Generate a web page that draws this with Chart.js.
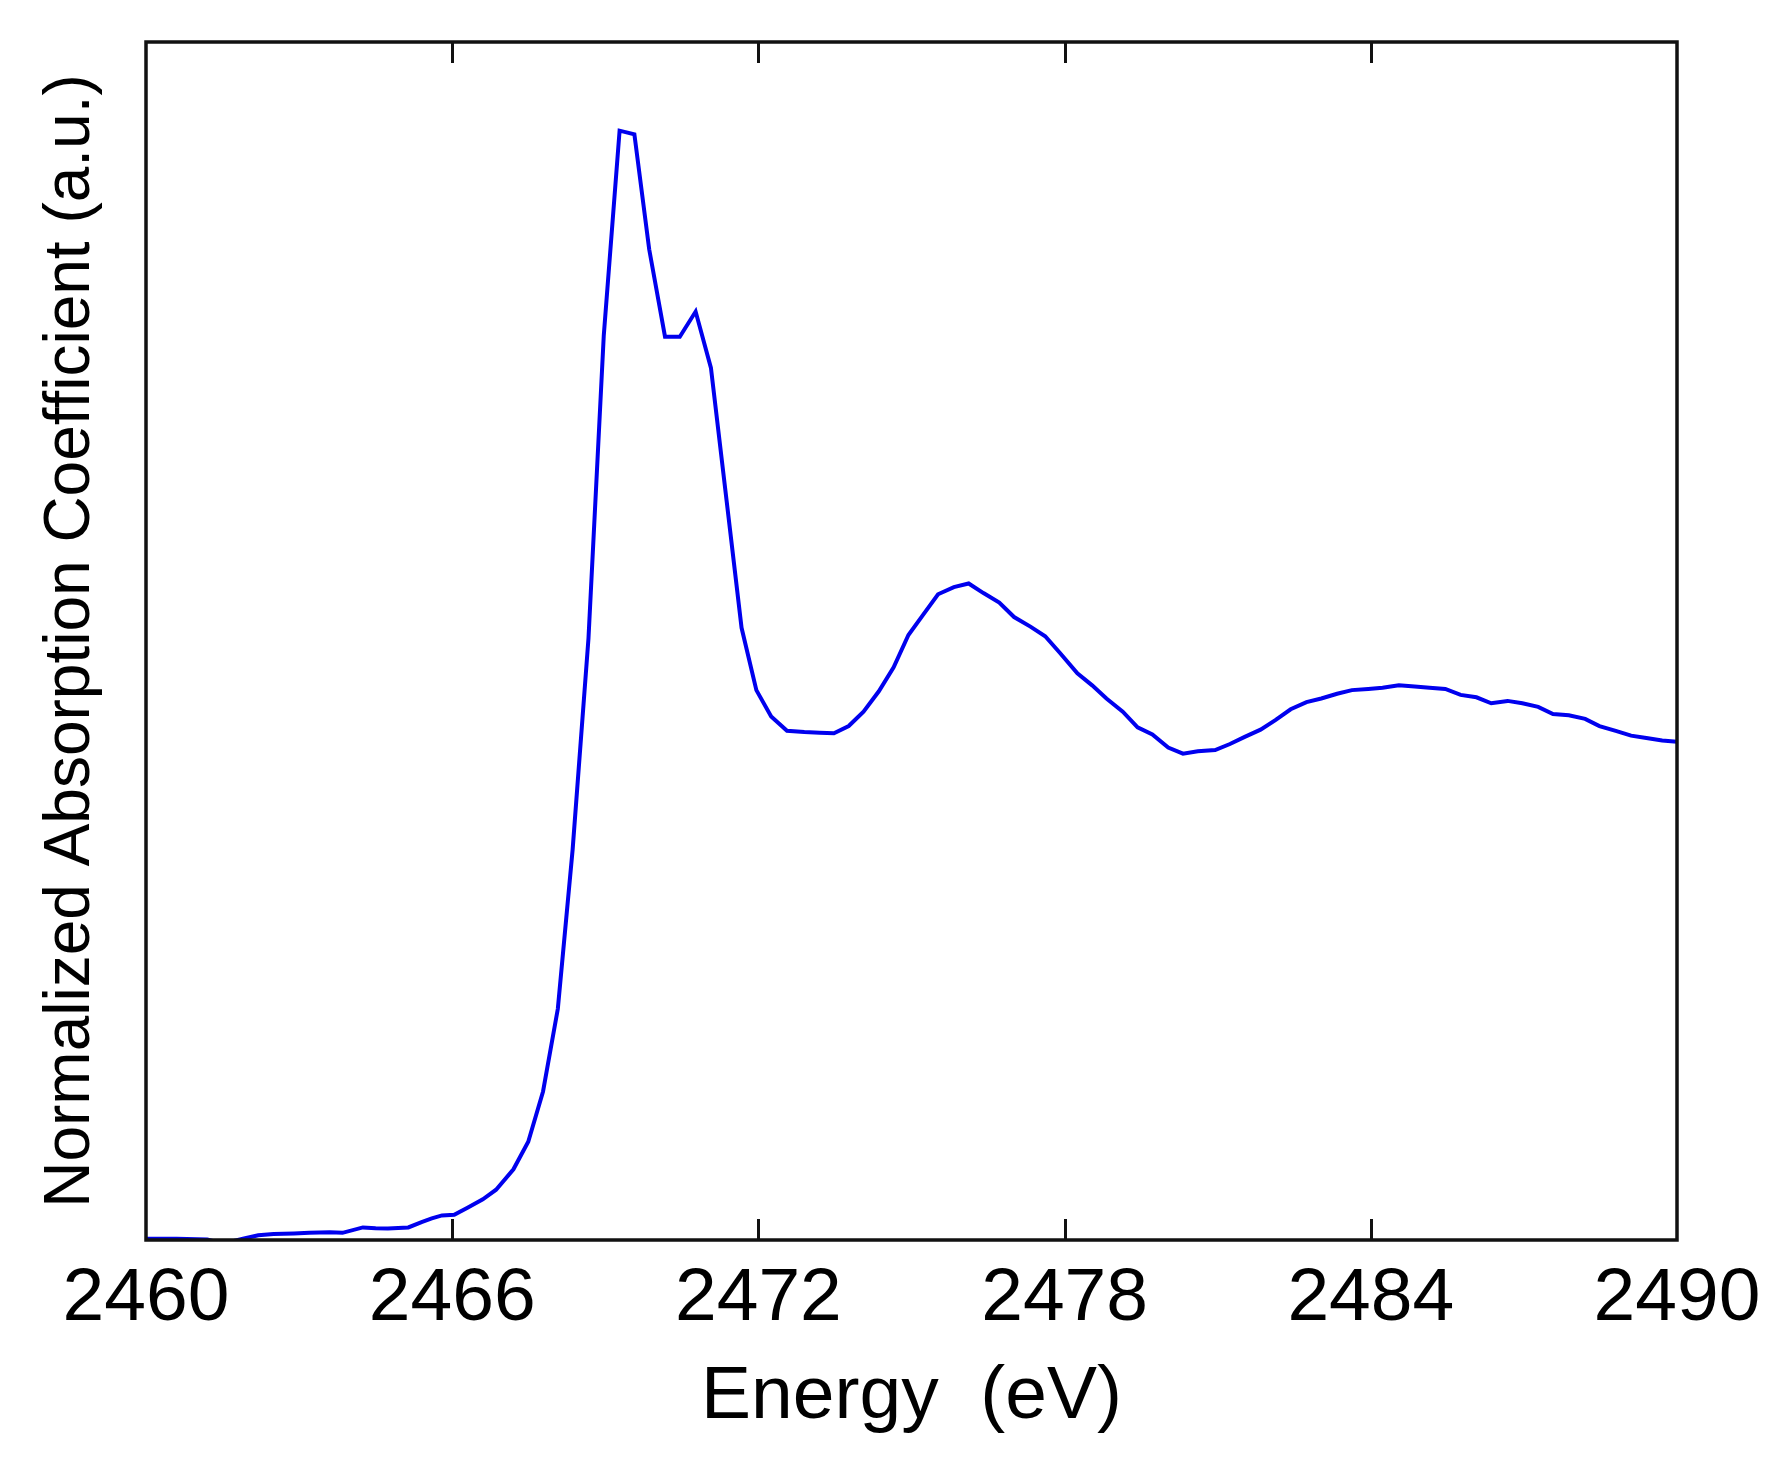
<!DOCTYPE html>
<html>
<head>
<meta charset="utf-8">
<script src="https://cdn.jsdelivr.net/npm/chart.js@4.4.1/dist/chart.umd.min.js"></script>
<style>
  html, body { margin: 0; padding: 0; background: #ffffff; }
  #wrap { width: 1787px; height: 1469px; position: relative; }
</style>
</head>
<body>
<div id="wrap"><canvas id="c"></canvas></div>
<script>
// Energy (eV) sample positions
const energy = [
  2460.0, 2460.6, 2461.2, 2461.5, 2461.9, 2462.2, 2462.5, 2462.9, 2463.2, 2463.6,
  2463.85, 2464.25, 2464.5, 2464.74, 2465.14, 2465.4, 2465.6, 2465.8, 2466.04, 2466.3,
  2466.6, 2466.86, 2467.2, 2467.49, 2467.78, 2468.07, 2468.36, 2468.67, 2468.97, 2469.28,
  2469.57, 2469.86, 2470.17, 2470.46, 2470.77, 2471.07, 2471.38, 2471.67, 2471.96, 2472.25,
  2472.56, 2472.9, 2473.2, 2473.48, 2473.77, 2474.06, 2474.36, 2474.65, 2474.94, 2475.23,
  2475.52, 2475.83, 2476.12, 2476.41, 2476.72, 2477.01, 2477.33, 2477.62, 2477.91, 2478.25,
  2478.54, 2478.82, 2479.14, 2479.43, 2479.72, 2480.03, 2480.32, 2480.61, 2480.95, 2481.24,
  2481.53, 2481.84, 2482.13, 2482.43, 2482.74, 2483.03, 2483.34, 2483.63, 2483.95, 2484.23,
  2484.55, 2484.86, 2485.15, 2485.46, 2485.76, 2486.07, 2486.36, 2486.68, 2486.97, 2487.28,
  2487.57, 2487.88, 2488.2, 2488.48, 2488.8, 2489.1, 2489.4, 2489.71, 2490.0
];
// Normalized absorption coefficient (a.u.)
const absorption = [
  0.001, 0.001, 0.0005, -0.003, 0.001, 0.004, 0.005, 0.0055, 0.006, 0.0065,
  0.006, 0.0105, 0.0098, 0.0095, 0.0105, 0.015, 0.018, 0.0205, 0.021, 0.027,
  0.034, 0.042, 0.059, 0.082, 0.124, 0.193, 0.326, 0.502, 0.755, 0.926,
  0.923, 0.827, 0.754, 0.754, 0.775, 0.728, 0.616, 0.511, 0.459, 0.437,
  0.425, 0.424, 0.4235, 0.423, 0.429, 0.441, 0.458, 0.478, 0.505, 0.522,
  0.539, 0.545, 0.548, 0.540, 0.532, 0.520, 0.512, 0.504, 0.490, 0.473,
  0.463, 0.452, 0.441, 0.428, 0.422, 0.411, 0.406, 0.408, 0.409, 0.414,
  0.420, 0.426, 0.434, 0.443, 0.449, 0.452, 0.456, 0.459, 0.460, 0.461,
  0.463, 0.462, 0.461, 0.460, 0.455, 0.453, 0.448, 0.450, 0.448, 0.445,
  0.439, 0.438, 0.435, 0.429, 0.425, 0.421, 0.419, 0.417, 0.416
];
const xTicks = [2460, 2466, 2472, 2478, 2484, 2490];
const xTickLabels = ['2460', '2466', '2472', '2478', '2484', '2490'];
const xTitle = 'Energy  (eV)';
const yTitle = 'Normalized Absorption Coefficient (a.u.)';

const FONT = '"Liberation Sans", Arial, Helvetica, sans-serif';

const points = energy.map((e, i) => ({ x: e, y: absorption[i] }));

const framePlugin = {
  id: 'frame',
  afterDraw(chart) {
    const { ctx, chartArea: a, scales } = chart;
    const xs = scales.x;
    ctx.save();
    ctx.strokeStyle = '#111111';
    ctx.lineWidth = 3.5;
    ctx.strokeRect(a.left, a.top, a.right - a.left, a.bottom - a.top);
    ctx.lineWidth = 3;
    const tl = 21;
    xs.ticks.forEach(t => {
      if (t.value <= xs.min || t.value >= xs.max) return;
      const px = Math.round(xs.getPixelForValue(t.value)) + 0.5;
      ctx.beginPath();
      ctx.moveTo(px, a.bottom);
      ctx.lineTo(px, a.bottom - tl);
      ctx.moveTo(px, a.top);
      ctx.lineTo(px, a.top + tl);
      ctx.stroke();
    });
    ctx.restore();
  }
};

new Chart(document.getElementById('c'), {
  type: 'line',
  data: {
    datasets: [{
      data: points,
      borderColor: '#0000ee',
      borderWidth: 4,
      pointRadius: 0,
      tension: 0,
      fill: false
    }]
  },
  options: {
    responsive: true,
    maintainAspectRatio: false,
    animation: false,
    devicePixelRatio: 1,
    layout: { padding: { top: 42, right: 110, left: 0, bottom: 0 } },
    plugins: { legend: { display: false }, tooltip: { enabled: false } },
    scales: {
      x: {
        type: 'linear',
        min: 2460,
        max: 2490,
        afterBuildTicks(scale) { scale.ticks = xTicks.map(v => ({ value: v })); },
        afterFit(scale) { scale.height = 229; },
        grid: { display: false, drawTicks: false },
        border: { display: false },
        ticks: {
          autoSkip: false,
          maxRotation: 0,
          padding: 14,
          color: '#000000',
          font: { family: FONT, size: 75 },
          callback: (v) => xTickLabels[xTicks.indexOf(v)]
        },
        title: {
          display: true,
          text: xTitle,
          color: '#000000',
          font: { family: FONT, size: 75 },
          padding: { top: 0, bottom: 27 }
        }
      },
      y: {
        type: 'linear',
        min: 0,
        max: 1,
        afterFit(scale) { scale.width = 146; },
        grid: { display: false, drawTicks: false },
        border: { display: false },
        ticks: { display: false },
        title: {
          display: true,
          text: yTitle,
          color: '#000000',
          font: { family: FONT, size: 64 },
          padding: { top: 33, bottom: 0 }
        }
      }
    }
  },
  plugins: [framePlugin]
});
</script>
</body>
</html>
